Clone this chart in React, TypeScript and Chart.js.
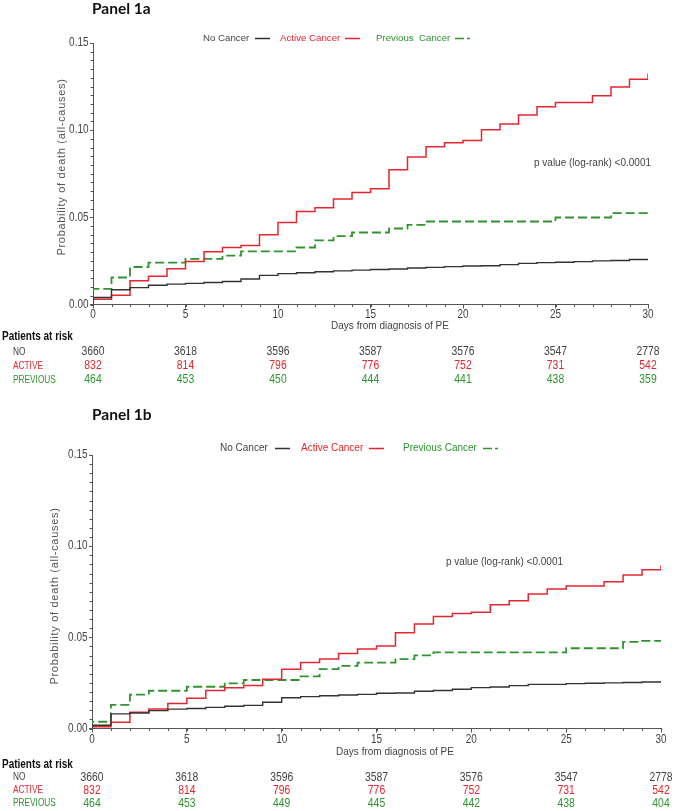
import React, { useEffect, useRef } from "react";
import { Chart, registerables } from "chart.js";

Chart.register(...registerables);

// ---------- DATA ----------
const DAYS = [0, 1, 2, 3, 4, 5, 6, 7, 8, 9, 10, 11, 12, 13, 14, 15, 16, 17, 18, 19, 20, 21, 22, 23, 24, 25, 26, 27, 28, 29, 30];
const TICK_DAYS = [0, 5, 10, 15, 20, 25, 30];
const Y_TICKS = [0, 0.05, 0.1, 0.15];
const SERIES_NAMES = ["No Cancer", "Active Cancer", "Previous Cancer"];
const RISK_LABELS = ["NO", "ACTIVE", "PREVIOUS"];
const P_VALUE_TEXT = "p value (log-rank) <0.0001";
const X_TITLE = "Days from diagnosis of PE";
const Y_TITLE = "Probability of death (all-causes)";

// Panel 1a (value held from day d to d+1; last entry = value at day 30)
const P1A_NO = [0.004, 0.0085, 0.0097, 0.011, 0.0117, 0.0121, 0.0126, 0.0132, 0.0146, 0.0167, 0.0177, 0.0182, 0.0188, 0.0193, 0.0197, 0.0201, 0.0204, 0.0209, 0.0213, 0.0217, 0.0221, 0.0222, 0.0229, 0.0236, 0.024, 0.0242, 0.0246, 0.025, 0.0252, 0.0258, 0.026];
const P1A_ACTIVE = [0.003, 0.0053, 0.0136, 0.0162, 0.0205, 0.0247, 0.0303, 0.0327, 0.0338, 0.04, 0.047, 0.0533, 0.0555, 0.0605, 0.0643, 0.0664, 0.0773, 0.0846, 0.0905, 0.0928, 0.0941, 0.1003, 0.1036, 0.1087, 0.1135, 0.1158, 0.1158, 0.1197, 0.1248, 0.1292, 0.1325];
const P1A_PREVIOUS = [0.009, 0.0155, 0.0215, 0.024, 0.024, 0.0262, 0.0262, 0.028, 0.0305, 0.0305, 0.0305, 0.0327, 0.0368, 0.0392, 0.0413, 0.0413, 0.0436, 0.0457, 0.0476, 0.0476, 0.0476, 0.0476, 0.0476, 0.0476, 0.0476, 0.0499, 0.0499, 0.0499, 0.0524, 0.0524, 0.0524];
const P1A_RISK_NO = [3660, 3618, 3596, 3587, 3576, 3547, 2778];
const P1A_RISK_ACTIVE = [832, 814, 796, 776, 752, 731, 542];
const P1A_RISK_PREVIOUS = [464, 453, 450, 444, 441, 438, 359];

// Panel 1b
const P1B_NO = [0.0018, 0.008, 0.0085, 0.0098, 0.0106, 0.011, 0.0116, 0.0122, 0.0127, 0.0144, 0.0169, 0.0175, 0.018, 0.0184, 0.0187, 0.0193, 0.0195, 0.0204, 0.0208, 0.0215, 0.0224, 0.0228, 0.0235, 0.0242, 0.0242, 0.0246, 0.0248, 0.025, 0.0252, 0.0255, 0.026];
const P1B_ACTIVE = [0.001, 0.0034, 0.0089, 0.0107, 0.0137, 0.0166, 0.0208, 0.0224, 0.0236, 0.027, 0.0325, 0.0362, 0.0381, 0.0412, 0.0436, 0.0452, 0.0525, 0.0573, 0.0614, 0.0631, 0.0637, 0.0679, 0.0701, 0.0738, 0.0765, 0.0781, 0.0781, 0.0805, 0.0842, 0.0871, 0.0896];
const P1B_PREVIOUS = [0.0037, 0.013, 0.0186, 0.0207, 0.0207, 0.0229, 0.0229, 0.0248, 0.0266, 0.0266, 0.0266, 0.0286, 0.0326, 0.0343, 0.0361, 0.0361, 0.0381, 0.0401, 0.0418, 0.0418, 0.0418, 0.0418, 0.0418, 0.0418, 0.0418, 0.044, 0.044, 0.044, 0.0475, 0.0481, 0.0481];
const P1B_RISK_NO = [3660, 3618, 3596, 3587, 3576, 3547, 2778];
const P1B_RISK_ACTIVE = [832, 814, 796, 776, 752, 731, 542];
const P1B_RISK_PREVIOUS = [464, 453, 449, 445, 442, 438, 404];

// ---------- STYLE ----------
const BLACK = "#333333";
const RED = "#e5262e";
const GREEN = "#2f932f";
const TEXT = "#444444";
const AXIS = "#555555";
const SANS = '"Liberation Sans", Arial, sans-serif';
const TITLE_FONT = 'Lato, "Open Sans", sans-serif';
const NARROW_SCALE = 0.83;

type Layout = {
  top: number;
  height: number;
  title: string;
  titleY: number;
  padTop: number;
  padRight: number;
  padBottom: number;
  yAxisWidth: number;
  yTitleX: number;
  yTitleY: number;
  legendY: number;
  legendFont: number;
  legend: { text: string; tx: number; lx: number }[];
  pX: number;
  pY: number;
  xTitleX: number;
  xTitleY: number;
  xTickY: number;
  riskHeadY: number;
  riskRowsY: number[];
};

function toPoints(vals: number[]) {
  return [{ x: DAYS[0], y: 0 }, ...DAYS.map((d, i) => ({ x: d, y: vals[i] }))];
}

function narrowText(ctx: CanvasRenderingContext2D, text: string, x: number, y: number, align: CanvasTextAlign) {
  ctx.save();
  ctx.translate(x, y);
  ctx.scale(NARROW_SCALE, 1);
  ctx.textAlign = align;
  ctx.fillText(text, 0, 0);
  ctx.restore();
}

function makeDecor(L: Layout, risk: number[][]) {
  return {
    id: "decor",
    afterDraw(chart: any) {
      const ctx: CanvasRenderingContext2D = chart.ctx;
      const xs = chart.scales.x;
      const ys = chart.scales.y;
      const ca = chart.chartArea;
      ctx.save();
      // minor ticks
      ctx.strokeStyle = AXIS;
      ctx.lineWidth = 1;
      ctx.beginPath();
      for (const d of DAYS) {
        const px = Math.round(xs.getPixelForValue(d)) + 0.5;
        ctx.moveTo(px, ca.bottom);
        ctx.lineTo(px, ca.bottom + 2.5);
      }
      for (let v = 0; v <= 0.1501; v += 0.005) {
        const py = Math.round(ys.getPixelForValue(v)) + 0.5;
        ctx.moveTo(ca.left, py);
        ctx.lineTo(ca.left - 2.5, py);
      }
      ctx.stroke();

      // tick labels
      ctx.textBaseline = "middle";
      ctx.fillStyle = TEXT;
      ctx.font = `12px ${SANS}`;
      TICK_DAYS.forEach((d) => narrowText(ctx, String(d), xs.getPixelForValue(d), L.xTickY, "center"));
      Y_TICKS.forEach((v) => narrowText(ctx, v.toFixed(2), ca.left - 4.5, ys.getPixelForValue(v), "right"));

      // panel title
      ctx.fillStyle = "#111";
      ctx.font = `bold 15.5px ${TITLE_FONT}`;
      ctx.textAlign = "left";
      ctx.fillText(L.title, 92, L.titleY);

      // legend
      const colors = [BLACK, RED, GREEN];
      const textColors = [TEXT, RED, GREEN];
      ctx.font = `${L.legendFont}px ${SANS}`;
      L.legend.forEach((it, i) => {
        ctx.fillStyle = textColors[i];
        ctx.fillText(it.text, it.tx, L.legendY);
        ctx.strokeStyle = colors[i];
        ctx.lineWidth = 1.5;
        ctx.setLineDash(i === 2 ? [9, 3] : []);
        ctx.beginPath();
        ctx.moveTo(it.lx, L.legendY + 0.5);
        ctx.lineTo(it.lx + 15, L.legendY + 0.5);
        ctx.stroke();
      });
      ctx.setLineDash([]);

      // p value
      ctx.fillStyle = TEXT;
      ctx.font = `10px ${SANS}`;
      ctx.fillText(P_VALUE_TEXT, L.pX, L.pY);

      // x title
      ctx.textAlign = "center";
      ctx.fillText(X_TITLE, L.xTitleX, L.xTitleY);

      // y title
      ctx.save();
      ctx.translate(L.yTitleX, L.yTitleY);
      ctx.rotate(-Math.PI / 2);
      ctx.fillStyle = AXIS;
      ctx.font = `11px ${SANS}`;
      (ctx as any).letterSpacing = "0.7px";
      ctx.textAlign = "center";
      ctx.fillText(Y_TITLE, 0, 0);
      ctx.restore();

      // risk table
      ctx.fillStyle = "#111";
      ctx.font = `bold 12px ${SANS}`;
      narrowText(ctx, "Patients at risk", 2, L.riskHeadY, "left");
      RISK_LABELS.forEach((lab, r) => {
        ctx.fillStyle = textColors[r];
        ctx.font = `10px ${SANS}`;
        narrowText(ctx, lab, 13, L.riskRowsY[r], "left");
        ctx.font = `12.5px ${SANS}`;
        TICK_DAYS.forEach((d, c) => {
          narrowText(ctx, String(risk[r][c]), xs.getPixelForValue(d), L.riskRowsY[r], "center");
        });
      });
      ctx.restore();
    },
  };
}

function Panel({ L, no, active, previous, risk }: { L: Layout; no: number[]; active: number[]; previous: number[]; risk: number[][] }) {
  const ref = useRef<HTMLCanvasElement>(null);
  useEffect(() => {
    if (!ref.current) return;
    const chart = new Chart(ref.current, {
      type: "line",
      data: {
        datasets: [
          { label: SERIES_NAMES[0], data: toPoints(no), borderColor: BLACK, borderWidth: 1.4, stepped: true, pointRadius: 0, fill: false },
          { label: SERIES_NAMES[1], data: toPoints(active), borderColor: RED, borderWidth: 1.5, stepped: true, pointRadius: 0, fill: false },
          { label: SERIES_NAMES[2], data: toPoints(previous), borderColor: GREEN, borderWidth: 1.8, borderDash: [9, 4], stepped: true, pointRadius: 0, fill: false },
        ],
      } as any,
      options: {
        animation: false,
        responsive: false,
        maintainAspectRatio: false,
        layout: { padding: { left: 0, right: L.padRight, top: L.padTop, bottom: L.padBottom } },
        plugins: { legend: { display: false }, tooltip: { enabled: false }, title: { display: false } },
        scales: {
          x: {
            type: "linear",
            min: 0,
            max: 30,
            ticks: { stepSize: 5, display: false, autoSkip: false, maxRotation: 0 },
            grid: { display: true, drawOnChartArea: false, drawTicks: true, tickLength: 4, color: AXIS },
            border: { display: true, color: AXIS, width: 1 },
            afterFit: (s: any) => { s.height = 20; },
          },
          y: {
            type: "linear",
            min: 0,
            max: 0.15,
            ticks: { stepSize: 0.05, display: false },
            grid: { display: true, drawOnChartArea: false, drawTicks: true, tickLength: 3, color: AXIS },
            border: { display: true, color: AXIS, width: 1 },
            afterFit: (s: any) => { s.width = L.yAxisWidth; },
          },
        },
      } as any,
      plugins: [makeDecor(L, risk)],
    });
    return () => chart.destroy();
  }, []);
  return (
    <canvas
      ref={ref}
      width={676}
      height={L.height}
      style={{ position: "absolute", left: 0, top: L.top, width: 676, height: L.height, display: "block" }}
    />
  );
}

const L1A: Layout = {
  top: 0,
  height: 400,
  title: "Panel 1a",
  titleY: 9,
  padTop: 43,
  padRight: 28,
  padBottom: 75.5,
  yAxisWidth: 93,
  yTitleX: 62,
  yTitleY: 167,
  legendY: 38,
  legendFont: 9.7,
  legend: [
    { text: "No Cancer", tx: 203, lx: 255 },
    { text: "Active Cancer", tx: 280, lx: 345 },
    { text: "Previous  Cancer", tx: 376, lx: 455 },
  ],
  pX: 534,
  pY: 163,
  xTitleX: 390,
  xTitleY: 326,
  xTickY: 315,
  riskHeadY: 337,
  riskRowsY: [352, 366, 380],
};

const L1B: Layout = {
  top: 400,
  height: 411,
  title: "Panel 1b",
  titleY: 15,
  padTop: 55,
  padRight: 15,
  padBottom: 62.5,
  yAxisWidth: 92,
  yTitleX: 55,
  yTitleY: 196,
  legendY: 48,
  legendFont: 10,
  legend: [
    { text: "No Cancer", tx: 220, lx: 275 },
    { text: "Active Cancer", tx: 301, lx: 369 },
    { text: "Previous Cancer", tx: 403, lx: 483 },
  ],
  pX: 446,
  pY: 162,
  xTitleX: 395,
  xTitleY: 352,
  xTickY: 340,
  riskHeadY: 365,
  riskRowsY: [377.5, 390.5, 403.5],
};

export default function App() {
  return (
    <div style={{ position: "absolute", left: 0, top: 0, width: 676, height: 811, background: "#fff" }}>
      <Panel L={L1A} no={P1A_NO} active={P1A_ACTIVE} previous={P1A_PREVIOUS} risk={[P1A_RISK_NO, P1A_RISK_ACTIVE, P1A_RISK_PREVIOUS]} />
      <Panel L={L1B} no={P1B_NO} active={P1B_ACTIVE} previous={P1B_PREVIOUS} risk={[P1B_RISK_NO, P1B_RISK_ACTIVE, P1B_RISK_PREVIOUS]} />
    </div>
  );
}
